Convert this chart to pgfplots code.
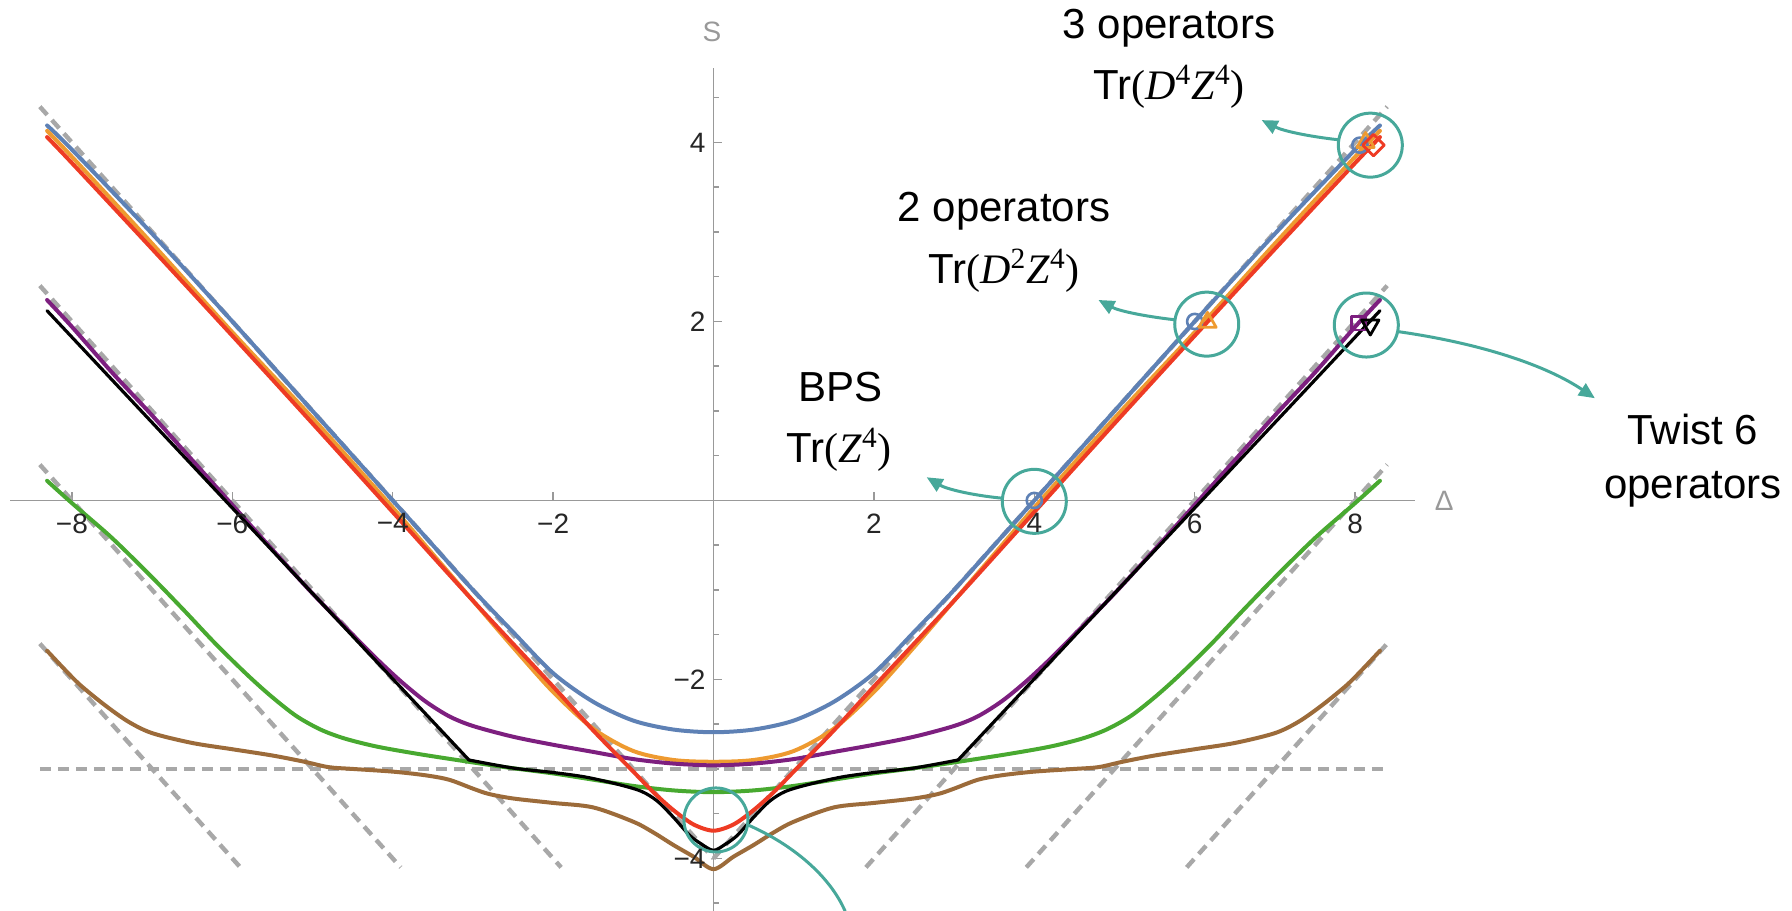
\documentclass[border=0pt]{standalone}
\usepackage{fontspec}
\setmainfont{Liberation Sans}
\newfontfamily\tms{Liberation Serif}
\usepackage{pgfplots}
\pgfplotsset{compat=1.18}
\usetikzlibrary{arrows.meta}
\definecolor{cblue}{HTML}{5E81B5}
\definecolor{corange}{HTML}{EE9A30}
\definecolor{cred}{HTML}{EE3B24}
\definecolor{cpurple}{HTML}{7D1F7F}
\definecolor{cgreen}{HTML}{48A930}
\definecolor{cbrown}{HTML}{9C6B3A}
\definecolor{cteal}{HTML}{47A89A}
\definecolor{cdash}{HTML}{A8A8A8}
\definecolor{axgrey}{HTML}{999999}
\pgfplotsset{
 layers/mylayers/.define layer set={axis background,axis grid,axis ticks,axis lines,main,axis tick labels,axis descriptions,axis foreground}{
   grid style={/pgfplots/on layer=axis grid},
   tick style={/pgfplots/on layer=axis ticks},
   axis line style={/pgfplots/on layer=axis lines},
   label style={/pgfplots/on layer=axis descriptions},
   legend style={/pgfplots/on layer=axis descriptions},
   title style={/pgfplots/on layer=axis descriptions},
   colorbar style={/pgfplots/on layer=axis descriptions},
   ticklabel style={/pgfplots/on layer=axis tick labels},
   axis background@ style={/pgfplots/on layer=axis background},
   3d box foreground style={/pgfplots/on layer=axis foreground},
 },
}
\begin{document}
\begin{tikzpicture}
\begin{axis}[
  set layers=mylayers,
  x=40.1pt, y=44.75pt,
  axis lines=middle,
  xmin=-8.77, xmax=8.75, ymin=-4.587, ymax=4.83,
  clip=false,
  axis line style={draw=axgrey, line width=0.75pt, -},
  xtick={-8,-6,-4,-2,2,4,6,8},
  xticklabels={−8,−6,−4,−2,2,4,6,8},
  ytick={-4,-2,2,4},
  yticklabels={−4,−2,2,4},
  minor ytick={-4.5,-3.5,-3,-2.5,-1.5,-1,-0.5,0.5,1,1.5,2.5,3,3.5,4.5},
  tick align=inside,
  tick style={draw=axgrey, line width=0.75pt},
  major tick length=4pt, minor tick length=2.5pt,
  tick label style={font=\fontsize{14}{16}\selectfont, text=black!85},
  xticklabel style={anchor=north, yshift=-3pt},
  yticklabel style={anchor=east, xshift=-0.5pt},
  line join=round, line cap=round,
]
% dashed reference lines
\pgfplotsset{dsh/.style={draw=cdash, line width=2.2pt, dash pattern=on 5.5pt off 3.5pt, line cap=butt}}
\addplot[dsh] coordinates {(-8.4,-3) (8.35,-3)};
\addplot[dsh] coordinates {(-8.4,4.4) (0,-4)};
\addplot[dsh] coordinates {(0,-4) (8.4,4.4)};
\addplot[dsh] coordinates {(-8.4,2.4) (-1.9,-4.1)};
\addplot[dsh] coordinates {(1.9,-4.1) (8.4,2.4)};
\addplot[dsh] coordinates {(-8.4,0.4) (-3.9,-4.1)};
\addplot[dsh] coordinates {(3.9,-4.1) (8.4,0.4)};
\addplot[dsh] coordinates {(-8.4,-1.6) (-5.9,-4.1)};
\addplot[dsh] coordinates {(5.9,-4.1) (8.4,-1.6)};
% blue
\addplot[cblue, line width=2pt, smooth] coordinates {
(-8.31,4.19) (-8,3.92) (-7,2.98) (-6,2.0) (-5,1.0) (-4,0) (-3.5,-0.5) (-3,-1.0) (-2.5,-1.47) (-2,-1.93) (-1.5,-2.25) (-1,-2.46) (-0.5,-2.56) (0,-2.59)
(0.5,-2.56) (1,-2.46) (1.5,-2.25) (2,-1.93) (2.5,-1.47) (3,-1.0) (3.5,-0.5) (4,0) (5,1.0) (6,2.0) (7,2.98) (8,3.92) (8.31,4.19)};
% orange
\addplot[corange, line width=2pt, smooth] coordinates {
(-8.31,4.13) (-8,3.84) (-7,2.87) (-6,1.88) (-5,0.92) (-4,-0.08) (-3.5,-0.6) (-3,-1.12) (-2.5,-1.64) (-2,-2.14) (-1.5,-2.55) (-1,-2.80) (-0.5,-2.9) (0,-2.92)
(0.5,-2.9) (1,-2.80) (1.5,-2.55) (2,-2.14) (2.5,-1.64) (3,-1.12) (3.5,-0.6) (4,-0.08) (5,0.92) (6,1.88) (7,2.87) (8,3.84) (8.31,4.13)};
% purple
\addplot[cpurple, line width=2pt, smooth] coordinates {
(-8.31,2.24) (-8,1.94) (-7.5,1.43) (-7,0.95) (-6.5,0.45) (-6,-0.05) (-5.5,-0.55) (-5,-1.04) (-4.5,-1.5) (-4.2,-1.77) (-3.9,-2.02) (-3.6,-2.24) (-3.3,-2.41) (-3,-2.52) (-2.5,-2.64) (-2,-2.73) (-1.5,-2.81) (-1,-2.89) (-0.5,-2.94) (0,-2.96)
(0.5,-2.94) (1,-2.89) (1.5,-2.81) (2,-2.73) (2.5,-2.64) (3,-2.52) (3.3,-2.41) (3.6,-2.24) (3.9,-2.02) (4.2,-1.77) (4.5,-1.5) (5,-1.04) (5.5,-0.55) (6,-0.05) (6.5,0.45) (7,0.95) (7.5,1.43) (8,1.94) (8.31,2.24)};
% green
\addplot[cgreen, line width=2pt, smooth] coordinates {
(-8.31,0.22) (-8,-0.03) (-7.5,-0.42) (-7,-0.86) (-6.6,-1.23) (-6.2,-1.61) (-5.8,-1.96) (-5.5,-2.2) (-5.2,-2.41) (-4.9,-2.56) (-4.6,-2.66) (-4.2,-2.75) (-3.7,-2.83) (-3.2,-2.9) (-2.6,-2.98) (-2,-3.05) (-1.5,-3.12) (-1,-3.19) (-0.5,-3.24) (0,-3.26)
(0.5,-3.24) (1,-3.19) (1.5,-3.12) (2,-3.05) (2.6,-2.98) (3.2,-2.9) (3.7,-2.83) (4.2,-2.75) (4.6,-2.66) (4.9,-2.56) (5.2,-2.41) (5.5,-2.2) (5.8,-1.96) (6.2,-1.61) (6.6,-1.23) (7,-0.86) (7.5,-0.42) (8,-0.03) (8.31,0.22)};
% brown
\addplot[cbrown, line width=2pt, smooth] coordinates {
(-8.31,-1.68) (-8.1,-1.88) (-7.9,-2.06) (-7.6,-2.28) (-7.3,-2.47) (-7,-2.6) (-6.5,-2.71) (-6,-2.78) (-5.5,-2.85) (-5.1,-2.92) (-4.8,-2.98) (-4.5,-3.0) (-4,-3.03) (-3.6,-3.07) (-3.3,-3.12) (-3,-3.22) (-2.8,-3.28) (-2.5,-3.33) (-2,-3.38) (-1.5,-3.43) (-1,-3.59) (-0.75,-3.71) (-0.5,-3.85) (-0.25,-3.98) (0,-4.12)
(0.25,-3.98) (0.5,-3.85) (0.75,-3.71) (1,-3.59) (1.5,-3.43) (2,-3.38) (2.5,-3.33) (2.8,-3.28) (3,-3.22) (3.3,-3.12) (3.6,-3.07) (4,-3.03) (4.5,-3.0) (4.8,-2.98) (5.1,-2.92) (5.5,-2.85) (6,-2.78) (6.5,-2.71) (7,-2.6) (7.3,-2.47) (7.6,-2.28) (7.9,-2.06) (8.1,-1.88) (8.31,-1.68)};
% black
\addplot[black, line width=1.6pt] coordinates {(-8.31,2.12) (-3.05,-2.90)};
\addplot[black, line width=1.6pt] coordinates {(3.05,-2.90) (8.31,2.12)};
\addplot[black, line width=1.6pt, smooth] coordinates {
(-3.05,-2.90) (-2.5,-2.99) (-2,-3.04) (-1.6,-3.09) (-1.2,-3.17) (-0.9,-3.25) (-0.7,-3.36) (-0.5,-3.54) (-0.3,-3.74) (-0.15,-3.84) (0,-3.91)
(0.15,-3.84) (0.3,-3.74) (0.5,-3.54) (0.7,-3.36) (0.9,-3.25) (1.2,-3.17) (1.6,-3.09) (2,-3.04) (2.5,-2.99) (3.05,-2.90)};
% red
\addplot[cred, line width=2pt, smooth] coordinates {
(-8.31,4.06) (-8,3.77) (-7,2.81) (-6,1.84) (-5,0.86) (-4,-0.13) (-3,-1.12) (-2,-2.08) (-1.5,-2.57) (-1,-3.03) (-0.75,-3.26) (-0.5,-3.46) (-0.25,-3.62) (0,-3.69)
(0.25,-3.62) (0.5,-3.46) (0.75,-3.26) (1,-3.03) (1.5,-2.57) (2,-2.08) (3,-1.12) (4,-0.13) (5,0.86) (6,1.84) (7,2.81) (8,3.77) (8.31,4.06)};
% markers
\addplot[only marks, mark=o, mark size=3.8pt, mark options={draw=cblue, line width=1.3pt, fill=white}] coordinates {(4,0) (6.0,2.0) (8.06,3.97)};
\addplot[only marks, mark=triangle, mark size=5pt, mark options={draw=corange, line width=1.4pt, fill=white}] coordinates {(6.16,1.99) (8.13,4.0)};
\addplot[only marks, mark=square, mark size=3.8pt, mark options={draw=cred, line width=1.4pt, fill=white, rotate=45}] coordinates {(8.23,3.97)};
\addplot[only marks, mark=square, mark size=3.4pt, mark options={draw=cpurple, line width=1.4pt, fill=white}] coordinates {(8.04,1.98)};
\addplot[only marks, mark=triangle, mark size=5pt, mark options={draw=black, line width=1.4pt, fill=white, rotate=180}] coordinates {(8.19,1.96)};
% teal annotation circles
\addplot[only marks, mark=o, mark size=16pt, mark options={draw=cteal, line width=1.5pt}] coordinates {(4,-0.01) (6.15,1.97) (8.19,3.97) (8.14,1.96) (0.03,-3.57)};
% arrows
\draw[cteal, line width=1.5pt, -{Triangle[length=8pt,width=7pt]}] (axis cs:3.6,0.025) .. controls (axis cs:3.2,0.06) and (axis cs:2.9,0.13) .. (axis cs:2.658,0.259);
\draw[cteal, line width=1.5pt, -{Triangle[length=8pt,width=7pt]}] (axis cs:5.74,2.02) .. controls (axis cs:5.35,2.06) and (axis cs:5.05,2.12) .. (axis cs:4.80,2.24);
\draw[cteal, line width=1.5pt, -{Triangle[length=8pt,width=7pt]}] (axis cs:7.79,4.03) .. controls (axis cs:7.4,4.07) and (axis cs:7.1,4.13) .. (axis cs:6.835,4.25);
\draw[cteal, line width=1.5pt, -{Triangle[length=8pt,width=7pt]}] (axis cs:8.54,1.886) .. controls (axis cs:9.6,1.75) and (axis cs:10.4,1.5) .. (axis cs:10.99,1.142);
\draw[cteal, line width=1.5pt] (axis cs:0.43,-3.626) .. controls (axis cs:1.0,-3.85) and (axis cs:1.45,-4.2) .. (axis cs:1.64,-4.587);
% labels
\tikzset{lab/.style={anchor=base, font=\fontsize{21}{25}\selectfont, inner sep=0pt}}
\node[lab] at (axis cs:1.584,1.104) {BPS};
\node[lab] at (axis cs:1.565,0.42) {Tr{\tms(\textit{Z}\textsuperscript{4})}};
\node[lab] at (axis cs:3.622,3.115) {2 operators};
\node[lab] at (axis cs:3.622,2.427) {Tr{\tms(\textit{D}\textsuperscript{2}\textit{Z}\textsuperscript{4})}};
\node[lab] at (axis cs:5.68,5.164) {3 operators};
\node[lab] at (axis cs:5.68,4.475) {Tr{\tms(\textit{D}\textsuperscript{4}\textit{Z}\textsuperscript{4})}};
\node[lab] at (axis cs:12.21,0.62) {Twist 6};
\node[lab] at (axis cs:12.21,0.017) {operators};
\node[text=axgrey, font=\fontsize{14}{16}\selectfont] at (axis cs:-0.02,5.24) {S};
\node[text=axgrey, font=\fontsize{14}{16}\selectfont] at (axis cs:9.11,0) {Δ};
\coordinate (bbl) at (axis cs:-8.897,-4.587);
\coordinate (btr) at (axis cs:13.448,5.592);
\end{axis}
\pgfresetboundingbox
\path[use as bounding box] (bbl) rectangle (btr);
\end{tikzpicture}
\end{document}
